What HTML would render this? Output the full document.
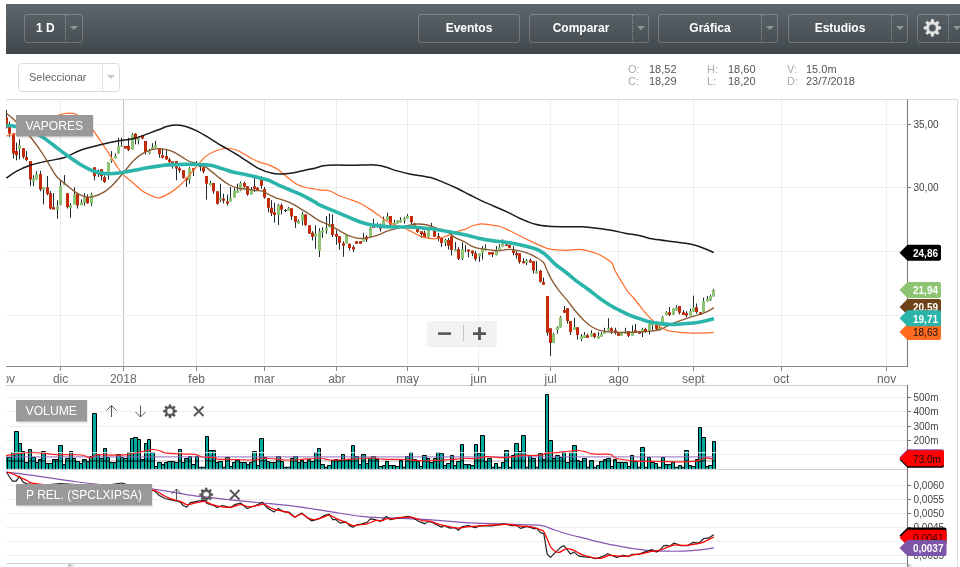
<!DOCTYPE html>
<html><head><meta charset="utf-8"><title>VAPORES</title>
<style>
html,body{margin:0;padding:0;background:#fff;}
body{width:960px;height:567px;position:relative;overflow:hidden;font-family:"Liberation Sans",sans-serif;}
#hdr{position:absolute;left:6px;top:4px;width:954px;height:50px;overflow:hidden;background:linear-gradient(#5e676d,#40474c);}
.btn{position:absolute;top:10px;height:27px;border:1px solid rgba(255,255,255,.22);border-radius:3px;box-sizing:content-box;color:#fff;font-weight:bold;font-size:12px;line-height:27px;text-align:center;}
.btn .dv{position:absolute;top:0;bottom:0;width:0;border-left:1px dotted rgba(255,255,255,.35);}
.btn .ar{position:absolute;top:10.5px;width:0;height:0;border-left:4px solid transparent;border-right:4px solid transparent;border-top:4.5px solid #8f969a;}
#sel{position:absolute;left:18px;top:63px;width:100px;height:27px;border:1px solid #dcdcdc;border-radius:4px;background:#fff;font-size:11px;color:#666;line-height:27px;}
#sel span{position:absolute;left:10px;top:0;}
#sel .dv{position:absolute;left:83px;top:0;bottom:0;border-left:1px dotted #ccc;}
#sel .ar{position:absolute;left:88px;top:11px;width:0;height:0;border-left:4px solid transparent;border-right:4px solid transparent;border-top:4.5px solid #c8c8c8;}
.inf{position:absolute;font-size:11px;line-height:12px;color:#555;white-space:nowrap;}
.inf b{font-weight:normal;color:#aaa;}
svg{position:absolute;left:0;top:0;will-change:transform;}
#hdr,#sel,.inf{will-change:transform;}
.xl{font-size:12px;fill:#666;font-family:"Liberation Sans",sans-serif;}
.yl{font-size:10px;fill:#444;font-family:"Liberation Sans",sans-serif;}
.tg{font-size:10px;font-family:"Liberation Sans",sans-serif;}
.lb{font-size:13px;fill:#fff;font-family:"Liberation Sans",sans-serif;}
</style></head><body>
<div id="hdr">
 <div class="btn" style="left:18px;width:57px;"><span style="position:absolute;left:11px;top:0;">1 D</span><span class="dv" style="left:40px"></span><span class="ar" style="left:45px"></span></div>
 <div class="btn" style="left:412px;width:100px;">Eventos</div>
 <div class="btn" style="left:523px;width:118px;"><span style="position:absolute;left:0;width:102px;top:0;">Comparar</span><span class="dv" style="left:102px"></span><span class="ar" style="left:107px"></span></div>
 <div class="btn" style="left:652px;width:118px;"><span style="position:absolute;left:0;width:102px;top:0;">Gráfica</span><span class="dv" style="left:102px"></span><span class="ar" style="left:107px"></span></div>
 <div class="btn" style="left:782px;width:118px;"><span style="position:absolute;left:0;width:102px;top:0;">Estudios</span><span class="dv" style="left:102px"></span><span class="ar" style="left:107px"></span></div>
 <div class="btn" style="left:911px;width:60px;"><span class="dv" style="left:30px"></span><span class="ar" style="left:35px"></span></div>
</div>
<div id="sel"><span>Seleccionar</span><i class="dv"></i><i class="ar"></i></div>
<div class="inf" style="left:628px;top:63px;"><b>O:</b></div><div class="inf" style="left:648.5px;top:63px;">18,52</div>
<div class="inf" style="left:628px;top:75px;"><b>C:</b></div><div class="inf" style="left:648.5px;top:75px;">18,29</div>
<div class="inf" style="left:707px;top:63px;"><b>H:</b></div><div class="inf" style="left:727.5px;top:63px;">18,60</div>
<div class="inf" style="left:707px;top:75px;"><b>L:</b></div><div class="inf" style="left:727.5px;top:75px;">18,20</div>
<div class="inf" style="left:786.5px;top:63px;"><b>V:</b></div><div class="inf" style="left:806px;top:63px;">15.0m</div>
<div class="inf" style="left:786.5px;top:75px;"><b>D:</b></div><div class="inf" style="left:806px;top:75px;">23/7/2018</div>
<svg width="960" height="567" viewBox="0 0 960 567">
<defs>
<clipPath id="cx"><rect x="6.5" y="366" width="960" height="30"/></clipPath><clipPath id="cm"><rect x="6" y="100" width="901" height="266"/></clipPath>
<clipPath id="cv"><rect x="6" y="387" width="901" height="82.5"/></clipPath>
<clipPath id="cp"><rect x="6" y="470" width="901" height="94"/></clipPath>

</defs>
<path d="M60.5 99.5V366" stroke="#eeeeee" stroke-width="1"/><path d="M196.5 99.5V366" stroke="#eeeeee" stroke-width="1"/><path d="M264.5 99.5V366" stroke="#eeeeee" stroke-width="1"/><path d="M336.5 99.5V366" stroke="#eeeeee" stroke-width="1"/><path d="M407.5 99.5V366" stroke="#eeeeee" stroke-width="1"/><path d="M478.5 99.5V366" stroke="#eeeeee" stroke-width="1"/><path d="M550.5 99.5V366" stroke="#eeeeee" stroke-width="1"/><path d="M618.5 99.5V366" stroke="#eeeeee" stroke-width="1"/><path d="M693.5 99.5V366" stroke="#eeeeee" stroke-width="1"/><path d="M781.5 99.5V366" stroke="#eeeeee" stroke-width="1"/><path d="M886.5 99.5V366" stroke="#eeeeee" stroke-width="1"/><path d="M123.5 99.5V366" stroke="#c4c4c4" stroke-width="1"/><path d="M6 124.5H907" stroke="#eeeeee" stroke-width="1"/><path d="M6 187.5H907" stroke="#eeeeee" stroke-width="1"/><path d="M6 251.5H907" stroke="#eeeeee" stroke-width="1"/><path d="M6 315.5H907" stroke="#eeeeee" stroke-width="1"/><path d="M6 99.5H958" stroke="#dcdcdc" stroke-width="1"/><path d="M957.5 99.5V567" stroke="#dcdcdc" stroke-width="1"/><path d="M6 397.5H907" stroke="#eeeeee" stroke-width="1"/><path d="M6 411.5H907" stroke="#eeeeee" stroke-width="1"/><path d="M6 426.5H907" stroke="#eeeeee" stroke-width="1"/><path d="M6 440.5H907" stroke="#eeeeee" stroke-width="1"/><path d="M6 454.5H907" stroke="#eeeeee" stroke-width="1"/><path d="M6 485.5H907" stroke="#eeeeee" stroke-width="1"/><path d="M6 499.5H907" stroke="#eeeeee" stroke-width="1"/><path d="M6 513.5H907" stroke="#eeeeee" stroke-width="1"/><path d="M6 527.5H907" stroke="#eeeeee" stroke-width="1"/><path d="M6 541.5H907" stroke="#eeeeee" stroke-width="1"/><path d="M6 555.5H907" stroke="#eeeeee" stroke-width="1"/><path d="M6 385.5H907" stroke="#cfcfcf" stroke-width="1"/><path d="M6 469.5H907" stroke="#cfcfcf" stroke-width="1"/><path d="M6 563.5H907" stroke="#d5d5d5" stroke-width="1"/>
<g clip-path="url(#cm)">
<path d="M6.5 110V128.5M9.5 121.8V136.8M13.5 133.5V158.6M16.5 142.7V160.3M19.5 139.3V159.4M23.5 148.2V158.6M26.5 151.1V161.1M30.5 161.1V186.2M33.5 175.4V186.2M36.5 171.2V179.5M40.5 170.8V191.3M43.5 187.2V204.4M47.5 176V195.2M50.5 191V209.5M53.5 193.2V209.5M57.5 200.3V218.7M60.5 181V205.3M64.5 175.1V185.2M67.5 193.2V208.6M70.5 203.3V217.8M74.5 187.2V204.4M77.5 193.9V208.6M81.5 199.4V205.3M84.5 193.2V205.6M87.5 194.4V203.6M91.5 192.7V206.1M94.5 167.3V180.4M98.5 169.5V177M101.5 169.2V180.4M104.5 175.4V182.9M108.5 162V179.5M111.5 151.1V162.8M115.5 153.6V158.6M118.5 137.7V153.6M121.5 137.7V146.9M125.5 146V148.6M128.5 137.7V151.1M132.5 133.1V149.4M135.5 133.1V144.4M138.5 138.2V144.4M142.5 135.2V139.3M145.5 141V154.4M149.5 148.9V154.4M152.5 143.2V149.9M155.5 140.9V147.6M159.5 148.5V157.7M162.5 148.5V158.5M166.5 148.8V159.4M169.5 157.7V163.6M172.5 161.5V168.6M176.5 161V180.3M179.5 166.9V172.8M183.5 170.3V178.6M186.5 177.8V187M189.5 166.9V183.7M193.5 168.2V176.1M196.5 161V165.2M200.5 163.9V171.1M203.5 167.2V173.3M206.5 176.1V199.6M210.5 180.6V185.3M213.5 183.1V193.7M217.5 191.2V204.6M220.5 183.7V202.1M223.5 193.7V203.4M227.5 194.5V205.4M230.5 187V201.6M234.5 187.8V197.4M237.5 183.7V192.9M240.5 181.6V191.2M244.5 181.6V187.8M247.5 186.2V195.7M251.5 187V194.5M254.5 177.8V192M257.5 187V190M261.5 176.1V188.7M264.5 187V198.7M268.5 198.1V212.2M271.5 200.1V216M274.5 202.6V222.7M278.5 203.8V224.9M281.5 203.5V214.4M284 210.5h3M285.5 209.3V212.2M288.5 206.8V210.5M291.5 208.2V219.9M295.5 216V227.8M298.5 219.4V223.6M302.5 211.9V225.3M305.5 214.4V226.1M309.5 225.3V234M312.5 231.2V240.4M315.5 225.3V248.8M319.5 228.3V257.1M322.5 227.3V237.9M326.5 216.1V233.7M329.5 213.6V227.3M332.5 214.4V237M336.5 230.3V244.6M339.5 236.2V249.6M343.5 241.2V256.8M346.5 234V243.4M349.5 243.7V250.4M353.5 245.4V252.1M356.5 241.2V243.7M360.5 241.2V243.7M363.5 232.8V241.5M366.5 235.4V242.1M370.5 227V237.4M373.5 218.9V227.8M377.5 222.8V227M380.5 223.6V231.7M383.5 216.6V225.6M387.5 212.7V220.3M390.5 216.1V225.3M394.5 219.9V228.7M397.5 220.3V223.6M400.5 217.3V222.8M404.5 216.9V223.6M407.5 213.9V218.6M411.5 216.1V224M414.5 222.8V226.1M417.5 226.6V232.8M421.5 231.2V237.9M424.5 230.7V237.9M428.5 229.5V239M431.5 222.8V227.8M434.5 230.7V236.7M438.5 232.8V241.2M441.5 237.4V247.1M445.5 238.7V246.2M448.5 237.9V249.6M451.5 235.4V255.5M455.5 242.1V251.3M458.5 247.1V260M462.5 242.4V260M465.5 244.9V252M468.5 249.4V257.3M472.5 250.6V256.1M475.5 251.1V261.2M479.5 253.6V261.7M482.5 246.1V259.5M485.5 244.4V250.6M489.5 252.3V254.5M492.5 252V257M496.5 246.1V255.3M499.5 244.4V249.9M502.5 239.4V246.6M506.5 244.4V246.1M509.5 244.9V247.8M513.5 246.1V255.3M516.5 251.1V258.7M519.5 253.3V263.7M523.5 258.3V263.3M526.5 259V265M530.5 258.7V262.5M533.5 261.2V273.7M536.5 261.2V273.4M540.5 270V282.6M543.5 277.5V284.7M547.5 296V335.7M550.5 328.3V355.8M553.5 332.8V342.9M557.5 326.1V333.7M560.5 316.1V327.8M564.5 306V312.7M567.5 308.2V323.6M570.5 321.1V335M574.5 317.7V330M577.5 327.3V339.5M581.5 334V341.2M584.5 332V337.8M587.5 333.7V337.8M591.5 330.3V336.7M594.5 332.8V338.3M598.5 332.3V338.7M601.5 332.3V336.7M604.5 327.8V333.7M608.5 318.2V330.6M611.5 327.3V334M615.5 327.8V334.5M618.5 332.8V335.7M621.5 333.3V335.7M625.5 327.8V333.7M628.5 331.1V337M632.5 325.3V335.7M635.5 323.9V332.8M639.5 331.6V333.7M642.5 327.8V337M645.5 327.8V332.8M649.5 322.8V334.5M652.5 323.3V330.3M656.5 321.1V330.3M659.5 325.3V330.3M662.5 316.1V322.8M666.5 311.1V315.3M669.5 306.9V316.1M673.5 308.2V314.9M676.5 305.2V310.6M679.5 306V314.4M683.5 310.2V314.9M686.5 311.1V317.3M690.5 308.6V315.6M693.5 295.7V311.6M696.5 303.5V313.6M700.5 312.2V314.9M703.5 297.7V312.2M707.5 296V301.5M710.5 294.8V301M713.5 288.8V296.5" stroke="#1c2b33" stroke-width="1" fill="none"/><path d="M5 117.6h3V127.6h-3zM8 124.3h3V133.5h-3zM12 133.5h3V153.6h-3zM15 151.1h3V155.3h-3zM22 148.2h3V156.9h-3zM25 156.9h3V159.9h-3zM29 161.1h3V179.5h-3zM39 174h3V189.6h-3zM46 187.2h3V193.9h-3zM49 193.2h3V208.6h-3zM52 207.3h3V209.5h-3zM66 193.2h3V207h-3zM76 193.9h3V205.6h-3zM86 196.9h3V203.3h-3zM93 167.3h3V176.2h-3zM97 172h3V174.5h-3zM100 169.2h3V176.2h-3zM103 177h3V182.1h-3zM124 146h3V148.6h-3zM127 146h3V149.9h-3zM134 133.8h3V139.3h-3zM141 135.2h3V138.5h-3zM144 141h3V151.9h-3zM158 148.5h3V154.3h-3zM161 155.2h3V157.7h-3zM165 156h3V159.4h-3zM168 159.4h3V161.9h-3zM171 161.5h3V163.9h-3zM175 161h3V168.6h-3zM178 168.2h3V170.6h-3zM182 170.3h3V177.8h-3zM185 177.8h3V180.3h-3zM192 168.2h3V170.6h-3zM199 163.9h3V166.9h-3zM202 167.2h3V171.6h-3zM205 176.1h3V183.7h-3zM212 183.1h3V191.2h-3zM216 191.2h3V203.8h-3zM222 198.4h3V200.7h-3zM226 201.2h3V203.4h-3zM243 183.1h3V186.7h-3zM246 186.2h3V194.5h-3zM253 186.2h3V188.7h-3zM256 187.8h3V190h-3zM260 180h3V185.7h-3zM263 189h3V197.4h-3zM267 198.1h3V207.7h-3zM270 207.7h3V213.2h-3zM273 212.2h3V214.9h-3zM280 205.2h3V209.8h-3zM290 208.2h3V216.5h-3zM294 216h3V221.9h-3zM304 214.4h3V224.9h-3zM308 225.3h3V233.6h-3zM311 232.8h3V236.7h-3zM331 224h3V235h-3zM335 234h3V236.7h-3zM338 236.2h3V242.9h-3zM342 243.2h3V245.7h-3zM348 243.7h3V247.9h-3zM352 247.1h3V249.6h-3zM355 241.2h3V243.7h-3zM359 241.2h3V243.7h-3zM365 236.7h3V239.5h-3zM372 226.6h3V227.8h-3zM379 226.1h3V228.7h-3zM389 216.1h3V224.5h-3zM410 216.1h3V222.3h-3zM413 223.6h3V225.6h-3zM416 228.7h3V232h-3zM420 231.2h3V234h-3zM423 232.8h3V237.4h-3zM433 230.7h3V236.7h-3zM437 236.2h3V238.7h-3zM440 237.4h3V242.9h-3zM447 240h3V245.7h-3zM450 236.2h3V250.1h-3zM457 249.3h3V258.8h-3zM467 249.4h3V251.6h-3zM471 250.6h3V253.6h-3zM474 253.3h3V259h-3zM488 252.3h3V254.5h-3zM491 252.3h3V254.5h-3zM505 244.4h3V246.1h-3zM508 244.9h3V247.8h-3zM512 250.3h3V252.8h-3zM515 253.3h3V255.3h-3zM518 253.3h3V262h-3zM522 261.2h3V263.3h-3zM529 260.3h3V262.5h-3zM532 261.2h3V270.4h-3zM539 270.8h3V281.7h-3zM542 282.1h3V284.7h-3zM546 296h3V332.8h-3zM549 328.3h3V342.9h-3zM563 309.9h3V312.7h-3zM566 308.2h3V321.1h-3zM569 321.1h3V332h-3zM576 327.3h3V335h-3zM586 335.3h3V337.8h-3zM593 333.3h3V337h-3zM610 328.3h3V331.1h-3zM614 330.3h3V332.8h-3zM617 332.8h3V335.7h-3zM627 331.1h3V335.7h-3zM634 330.3h3V332.8h-3zM638 331.6h3V333.7h-3zM644 329h3V332h-3zM655 324.4h3V329h-3zM668 312.2h3V314.9h-3zM678 306h3V312.7h-3zM682 312.2h3V314.9h-3zM685 313.2h3V315.6h-3zM695 307.2h3V311.9h-3zM699 312.2h3V314.9h-3z" fill="#c22a0a"/><path d="M18 145.2h3V148.9h-3zM32 178.7h3V181.7h-3zM35 174h3V179.5h-3zM42 187.2h3V189.4h-3zM56 206.4h3V209.5h-3zM59 186h3V205.3h-3zM63 182.7h3V185.2h-3zM69 205.3h3V207.8h-3zM73 194.4h3V204.4h-3zM80 202.3h3V205.3h-3zM83 197.2h3V202.8h-3zM90 193.9h3V203.6h-3zM107 162h3V172h-3zM110 158.3h3V161.1h-3zM114 156.1h3V158.6h-3zM117 146h3V153.6h-3zM120 146h3V147h-3zM131 134.3h3V149.4h-3zM137 138.2h3V140.5h-3zM148 151.1h3V153.6h-3zM151 147.2h3V149.9h-3zM154 145.1h3V147.6h-3zM188 168.2h3V179.5h-3zM209 183.1h3V185.3h-3zM219 197.9h3V200.4h-3zM229 197.9h3V201.6h-3zM233 190.4h3V197.4h-3zM236 190.4h3V192.9h-3zM239 183.1h3V190.4h-3zM250 189.5h3V194.5h-3zM277 205.2h3V214.9h-3zM287 208.2h3V210.5h-3zM297 221.1h3V223.6h-3zM301 213.9h3V220.6h-3zM314 234h3V236.7h-3zM318 231.2h3V250.8h-3zM321 230.3h3V232.8h-3zM325 228.1h3V230.7h-3zM328 224.5h3V227.3h-3zM345 235h3V243.4h-3zM362 237.4h3V241.5h-3zM369 227.8h3V237.4h-3zM382 220.3h3V225.6h-3zM386 216.6h3V220.3h-3zM393 222.8h3V227.3h-3zM396 220.3h3V223.6h-3zM399 220.3h3V222.8h-3zM403 218.3h3V220.6h-3zM406 216.1h3V218.6h-3zM427 230.3h3V237.4h-3zM444 240h3V242.4h-3zM454 249.3h3V251.3h-3zM461 249.3h3V258.5h-3zM478 253.6h3V256.6h-3zM481 248.3h3V253.3h-3zM484 248.1h3V249.1h-3zM495 249.4h3V255.3h-3zM498 247.3h3V249.9h-3zM501 243.9h3V246.6h-3zM525 260.3h3V262.8h-3zM535 271.2h3V273.4h-3zM552 334h3V342.9h-3zM556 327h3V330h-3zM559 317.2h3V327.8h-3zM573 327h3V330h-3zM580 336.2h3V339h-3zM583 335h3V337.8h-3zM590 333.3h3V336.7h-3zM597 336.2h3V338.7h-3zM600 333.7h3V336.7h-3zM603 331.6h3V333.7h-3zM607 328.3h3V330.6h-3zM620 333.3h3V335.7h-3zM624 331.6h3V333.7h-3zM631 331.6h3V335.7h-3zM641 329h3V332.3h-3zM648 323.9h3V331.1h-3zM651 323.3h3V325.6h-3zM658 327.8h3V330.3h-3zM661 316.9h3V322.8h-3zM665 312.2h3V314.9h-3zM672 308.2h3V314.9h-3zM675 307.7h3V310.6h-3zM689 311.1h3V315.6h-3zM692 307.2h3V311.6h-3zM702 301h3V312.2h-3zM706 298.8h3V301.5h-3zM709 296h3V300.2h-3zM712 290.1h3V296.5h-3z" fill="#8dc473"/>
<path d="M6.4 136C8 135.6 12.1 135 16 133.5C19.9 132 25.2 129.4 30 127C34.8 124.6 39.7 121.1 45 119C50.3 116.9 58 115.2 62 114.2C66 113.2 66.3 113 68.7 113C71.1 113 73.5 113 76.2 114.2C78.9 115.4 82.2 117.3 85 120C87.8 122.7 90.4 126.6 93 130.1C95.6 133.6 97.8 137.1 100.5 141C103.2 144.9 106.1 149.3 108.9 153.6C111.7 157.9 114.8 163.4 117.3 167C119.8 170.6 121.2 172.6 124 175.4C126.8 178.2 130.7 180.9 134 183.7C137.3 186.5 140.7 189.9 144 192.1C147.3 194.3 151.4 195.9 154.1 196.8C156.8 197.7 157.3 198.2 160 197.6C162.7 196.9 166.8 194.9 170.1 192.9C173.4 190.9 177 188.1 180.1 185.3C183.2 182.5 185.7 179.3 188.5 176.1C191.3 172.9 194.1 169.3 196.9 166.1C199.7 162.9 202.5 159.3 205.3 156.9C208.1 154.5 210.5 153.2 213.6 151.8C216.7 150.4 220.9 149.1 223.7 148.5C226.5 147.9 227.9 148.1 230.4 148.5C232.9 148.9 235.7 149.6 238.8 151C241.9 152.4 245.5 155.1 248.8 156.9C252.2 158.7 255.5 160.6 258.9 161.9C262.2 163.2 265.5 163.5 268.9 164.9C272.2 166.3 275.6 168 279 170.3C282.4 172.6 285.9 176.2 289 178.6C292.1 181 294.6 183 297.4 184.5C300.2 186 302.9 186.8 305.8 187.5C308.7 188.2 312.6 188.6 315 189C317.4 189.4 317.5 189.8 320 190.1C322.5 190.4 326.7 190 330.1 191C333.5 192 336.6 194.5 340.2 196C343.8 197.5 348.5 198.9 351.9 200.2C355.2 201.4 357.2 202 360.3 203.5C363.4 205 367.2 207.4 370.3 209.4C373.4 211.4 376.2 213.5 378.7 215.3C381.2 217.1 382.9 218.8 385.4 220.3C387.9 221.8 390.7 223.2 393.8 224.5C396.9 225.8 400.7 226.6 403.8 227.8C406.9 229.1 409.4 230.6 412.2 232C415 233.4 418.1 235.2 420.6 236.2C423.1 237.2 424.8 237.8 427.3 238.2C429.8 238.6 432.8 238.9 435.6 238.7C438.4 238.5 441.2 237.8 444 237C446.8 236.2 449.6 234.8 452.4 233.7C455.2 232.6 458.7 231 460.8 230.3C462.9 229.6 462.9 230.1 465 229.3C467.1 228.5 470.6 226.4 473.4 225.5C476.2 224.6 479 223.9 481.8 223.8C484.6 223.7 487 224.4 490.1 224.8C493.2 225.2 496.9 225.5 500.2 226.5C503.5 227.5 506.9 229.4 510.2 231C513.5 232.6 516.9 234.3 520.3 236C523.6 237.7 527.2 239.6 530.3 241.1C533.4 242.6 535.9 243.7 538.7 244.9C541.5 246.1 544 247.5 547.1 248.3C550.2 249.1 553.8 249.6 557.1 249.9C560.5 250.2 563.6 250.4 567.2 250.3C570.8 250.2 575.3 249.3 578.9 249.4C582.5 249.5 585.6 250.2 589 251.1C592.4 251.9 595.9 253.1 599 254.5C602.1 255.9 605.2 258 607.4 259.5C609.6 261 611.2 261.9 612.4 263.7C613.6 265.4 613.3 267.3 614.7 270C616.1 272.7 618.5 276.6 620.6 280.1C622.7 283.6 625.1 287.8 627.3 290.9C629.5 294 631.8 295.8 634 298.5C636.2 301.2 638.5 304.1 640.7 306.9C642.9 309.7 645.2 312.7 647.4 315.2C649.6 317.7 652.2 320.1 654.1 321.9C656 323.7 656.5 324.7 658.6 326.1C660.8 327.5 664.2 329.4 667 330.3C669.8 331.2 672 331.3 675.4 331.7C678.8 332.1 682.9 332.6 687.1 332.8C691.3 333.1 696 333.2 700.5 333.2C705 333.1 711.7 332.6 713.9 332.5" fill="none" stroke="#ff6f2c" stroke-width="1.25" stroke-linejoin="round" stroke-linecap="butt" /><path d="M6.4 178.2C8.1 177 12.8 173.3 16.8 171.2C20.8 169 25.2 167 30.2 165.3C35.2 163.6 41.3 162.3 46.9 161.1C52.5 159.8 58.1 159.6 63.7 157.8C69.3 156 75.1 152.2 80.4 150.2C85.7 148.2 89.3 147.5 95.5 146C101.7 144.5 110.9 142.2 117.3 141C123.7 139.8 128.4 139.9 134 138.5C139.6 137.1 146.5 134.1 150.8 132.6C155.1 131.1 157.3 130.3 160 129.3C162.7 128.3 163.9 127.1 166.7 126.4C169.5 125.7 173.5 125 176.8 125C180.2 125 183.5 125.7 186.8 126.7C190.2 127.7 193.3 129.1 196.9 130.9C200.5 132.7 204.4 135.1 208.6 137.6C212.8 140.1 217.8 143.5 222 146C226.2 148.5 229.8 150.3 233.7 152.7C237.6 155.1 241.3 157.5 245.5 160.2C249.7 162.8 254.4 166.4 258.9 168.6C263.4 170.8 268.4 172.4 272.3 173.3C276.2 174.2 278.7 174 282.3 173.9C285.9 173.8 290.1 173.5 294 172.8C297.9 172.1 302.3 170.7 305.8 169.9C309.3 169.1 312.1 168.9 315 168.2C317.9 167.5 319.8 166.3 323.4 165.8C327 165.3 332.1 165.1 336.8 165C341.6 164.9 347.2 165.3 351.9 165.3C356.6 165.3 361.3 165.1 365 165C368.7 164.9 371.3 164.8 374 164.9C376.7 165 378.7 165.2 381 165.7C383.3 166.2 385.3 166.9 388 167.8C390.7 168.7 393.4 169.8 397.1 170.9C400.9 172 404.9 173.1 410.5 174.2C416.1 175.3 425 176.2 430.6 177.6C436.2 179 439.5 180.8 444 182.6C448.5 184.4 453.1 186.4 457.4 188.5C461.7 190.6 465.9 192.9 470 195C474.1 197.1 477.6 199 481.8 200.9C486 202.8 490.7 204.8 495.2 206.7C499.7 208.6 504.1 210.5 508.6 212.6C513.1 214.7 517.5 217.4 522 219.3C526.5 221.2 530.9 223.1 535.4 224.3C539.9 225.5 543.8 225.9 548.8 226.3C553.8 226.7 559.9 226.7 565.5 226.8C571.1 226.9 576.7 226.5 582.3 226.8C587.9 227.1 594 227.9 599 228.5C604 229.1 608.1 229.7 612.4 230.5C616.7 231.3 620.4 232.3 625 233.2C629.6 234.1 635.3 234.8 640 235.8C644.7 236.8 647.8 238.1 653.4 239.1C659 240.1 667.4 241 673.5 241.8C679.6 242.6 685.3 243 690.3 244.1C695.3 245.2 699.8 246.8 703.7 248.2C707.6 249.6 712 251.8 713.7 252.5" fill="none" stroke="#1a1a1a" stroke-width="1.5" stroke-linejoin="round" stroke-linecap="butt" /><path d="M6.4 113.4C7.3 114.1 10 116.1 11.7 117.6C13.4 119.1 13.7 119.4 16.8 122.6C19.9 125.8 26.3 132.2 30.2 136.8C34.1 141.4 37.1 145.7 40.2 150.2C43.3 154.7 45.8 159.1 48.6 163.6C51.4 168.1 53.9 173.4 57 177C60.1 180.6 63.9 182.9 67 185.4C70.1 187.9 72.6 190.3 75.4 192.1C78.2 193.9 81 195.5 83.8 196.3C86.6 197.1 88.8 197.5 92.1 196.8C95.4 196.1 100.3 194.3 103.9 192.1C107.5 189.9 110.6 187 113.9 183.7C117.2 180.3 120.7 175.9 124 172C127.3 168.1 130.9 163.4 134 160.3C137.1 157.2 139.6 155.3 142.4 153.6C145.2 151.9 148.3 150.7 150.8 149.9C153.3 149.1 155.1 148.7 157.5 148.6C159.9 148.5 162.3 148.8 165 149.3C167.7 149.8 170.6 150.5 173.4 151.8C176.2 153.1 179.3 155.4 181.8 156.9C184.3 158.4 186 159.9 188.5 161C191 162.1 194.1 162.6 196.9 163.6C199.7 164.6 202.8 165.5 205.3 166.9C207.8 168.3 209.5 170 212 171.9C214.5 173.8 217.5 176.5 220.3 178.6C223.1 180.7 225.9 183 228.7 184.5C231.5 186 234.3 187.1 237.1 187.8C239.9 188.6 242.4 188.6 245.5 189C248.6 189.4 252.7 190 255.5 190.4C258.3 190.8 260 190.5 262.2 191.2C264.4 191.9 266.7 193.4 268.9 194.5C271.1 195.6 273.1 196.9 275.6 197.9C278.1 198.9 281.2 199.4 284 200.4C286.8 201.4 289.6 202.4 292.4 203.8C295.2 205.2 297.9 207.1 300.7 208.8C303.5 210.5 305.9 211.9 309.1 214C312.3 216.1 316.5 219.2 320 221.1C323.5 223 326.7 223.6 330.1 225.3C333.5 227 336.9 229.4 340.2 231.2C343.5 233 347.1 235 350.2 236.2C353.3 237.4 355.8 238.1 358.6 238.4C361.4 238.7 363.9 238.4 367 237.9C370.1 237.4 373.6 236.5 377 235.4C380.4 234.3 383.8 232.4 387.1 231.2C390.5 230 393.8 229.2 397.1 228.3C400.5 227.4 403.9 226.3 407.2 225.6C410.5 224.9 413.8 224.1 417.2 224C420.6 223.9 423.9 224.3 427.3 225C430.7 225.7 434 227.1 437.3 228.3C440.6 229.5 444.3 230.4 447.4 232C450.5 233.6 452.9 236.3 455.7 237.9C458.5 239.5 461.2 240.2 464.1 241.7C467.1 243.2 470.4 245.7 473.4 246.9C476.3 248.1 479 248.4 481.8 248.9C484.6 249.4 487.3 249.6 490.1 249.9C492.9 250.2 495.4 250.9 498.5 250.8C501.6 250.7 505.2 249.4 508.6 249.4C512 249.4 515.2 249.9 518.6 250.6C522 251.3 525.6 252.4 528.7 253.6C531.8 254.8 534.5 256.3 537 257.8C539.5 259.3 542.1 260.8 543.7 262.8C545.4 264.8 545.5 267.1 546.9 270C548.3 272.9 549.9 276.8 551.9 280.1C553.9 283.5 556.1 286.8 558.6 290.1C561.1 293.5 564.2 296.7 567 300.2C569.8 303.7 572.6 307.6 575.4 311C578.2 314.4 581 317.6 583.8 320.3C586.6 323 589.3 325.3 592.1 327C594.9 328.7 597.5 329.8 600.5 330.6C603.5 331.4 606.8 331.7 610.1 332C613.4 332.3 616.8 332.4 620.1 332.5C623.5 332.6 626.9 332.4 630.2 332.3C633.6 332.2 636.9 332.2 640.2 332C643.6 331.8 646.9 331.6 650.3 331.2C653.6 330.8 657.5 330.4 660.3 329.5C663.1 328.6 664.5 327.3 667 326.1C669.5 324.9 672.6 323.5 675.4 322.4C678.2 321.3 681 320.4 683.8 319.4C686.6 318.4 689.3 317.5 692.1 316.6C694.9 315.7 698 315 700.5 314.2C703 313.4 705 312.7 707.2 311.6C709.4 310.5 712.8 308.3 713.9 307.6" fill="none" stroke="#8a5a32" stroke-width="1.35" stroke-linejoin="round" stroke-linecap="butt" /><path d="M6.4 125.4C8.1 125.6 12.9 125.9 16.8 126.8C20.7 127.7 25.8 129.3 30 131C34.2 132.7 38 134.4 41.9 136.8C45.8 139.2 49.4 142.1 53.6 145.2C57.8 148.3 62.5 152.1 67 155.3C71.5 158.5 75.9 161.8 80.4 164.5C84.9 167.2 89.3 169.7 93.8 171.2C98.3 172.7 102.7 173.4 107.2 173.7C111.7 174 116.1 173.4 120.6 172.8C125.1 172.2 129.5 171.1 134 170.3C138.5 169.5 143.1 168.5 147.4 167.8C151.7 167.1 156.5 166.4 160 165.9C163.5 165.4 164.8 165.2 168.4 164.9C172 164.7 177.1 164.5 181.8 164.4C186.6 164.3 192.2 164.3 196.9 164.4C201.7 164.5 206.1 164.5 210.3 165.2C214.5 165.9 218.1 167.4 222 168.6C225.9 169.8 229.8 171.3 233.7 172.3C237.6 173.3 241.3 173.5 245.5 174.4C249.7 175.3 255 176.8 258.9 177.8C262.8 178.8 265.5 179.1 268.9 180.3C272.2 181.6 275.6 183.8 279 185.3C282.4 186.8 285.7 188.1 289 189.5C292.3 190.9 295.9 192.3 299 193.7C302.1 195.1 304.7 196.5 307.4 197.9C310.1 199.3 312.9 200.9 315 202.1C317.1 203.3 317.5 204 320 205.2C322.5 206.4 326.7 208 330.1 209.4C333.5 210.8 336.9 212.2 340.2 213.6C343.5 215 346.8 216.4 350.2 217.8C353.6 219.2 356.9 220.8 360.3 222C363.7 223.2 367 224.1 370.3 224.8C373.6 225.5 376.5 225.7 380.4 226.1C384.3 226.5 389.3 226.8 393.8 227C398.3 227.2 402.7 226.9 407.2 227C411.7 227.1 416.1 227.4 420.6 227.8C425.1 228.2 429.5 228.6 434 229.2C438.5 229.8 442.9 230.7 447.4 231.5C451.9 232.3 457 233.3 460.8 234C464.6 234.7 467.1 235.2 470 235.9C472.9 236.6 474.8 237.4 478.4 238.2C482 239 487.3 239.9 491.8 240.6C496.3 241.3 500.7 241.6 505.2 242.2C509.7 242.8 514.1 243.5 518.6 244.4C523.1 245.3 528.4 246.7 532 247.8C535.6 248.9 537.9 249.7 540.4 251.1C542.9 252.5 544.6 253.9 547.1 256.1C549.6 258.3 552.4 261.9 555.5 264.5C558.6 267.1 562.1 269.4 565.5 272C568.9 274.6 572 277.6 575.6 280.4C579.2 283.2 583.2 285.8 587.3 288.8C591.4 291.8 596.2 295.8 600 298.5C603.8 301.2 606.8 303.2 610.1 305.2C613.5 307.2 616.8 308.9 620.1 310.6C623.5 312.3 626.9 313.9 630.2 315.3C633.6 316.7 636.9 317.8 640.2 318.9C643.6 320 646.9 321.2 650.3 322C653.6 322.8 656.9 323.2 660.3 323.6C663.6 324 667 324.4 670.4 324.5C673.8 324.6 677 324.2 680.4 324C683.8 323.8 687.1 323.6 690.5 323.3C693.9 323 697.7 322.4 700.5 322C703.3 321.6 705 321.2 707.2 320.6C709.4 320 712.8 318.9 713.9 318.6" fill="none" stroke="#2bb5aa" stroke-width="3.6" stroke-linejoin="round" stroke-linecap="butt" />
</g>
<g clip-path="url(#cv)">
<clipPath id="cb"><path d="M4.5 468.8V457.5H7.5V468.8M7.5 468.8V457.5H11.5V468.8M11.5 468.8V452.5H14.5V468.8M14.5 468.8V431.5H18.5V468.8M18.5 468.8V443.5H21.5V468.8M21.5 468.8V451.5H24.5V468.8M24.5 468.8V462.5H28.5V468.8M28.5 468.8V449.5H31.5V468.8M31.5 468.8V457.5H35.5V468.8M35.5 468.8V462.5H38.5V468.8M38.5 468.8V459.5H41.5V468.8M41.5 468.8V451.5H45.5V468.8M45.5 468.8V463.5H48.5V468.8M48.5 468.8V463.5H52.5V468.8M52.5 468.8V459.5H55.5V468.8M55.5 468.8V459.5H58.5V468.8M58.5 468.8V445.5H62.5V468.8M62.5 468.8V464.5H65.5V468.8M65.5 468.8V458.5H69.5V468.8M69.5 468.8V451.5H72.5V468.8M72.5 468.8V458.5H75.5V468.8M75.5 468.8V461.5H79.5V468.8M79.5 468.8V463.5H82.5V468.8M82.5 468.8V459.5H86.5V468.8M86.5 468.8V461.5H89.5V468.8M89.5 468.8V456.5H92.5V468.8M92.5 468.8V413.5H96.5V468.8M96.5 468.8V454.5H99.5V468.8M99.5 468.8V458.5H103.5V468.8M103.5 468.8V448.5H106.5V468.8M106.5 468.8V457.5H109.5V468.8M109.5 468.8V462.5H113.5V468.8M113.5 468.8V462.5H116.5V468.8M116.5 468.8V454.5H120.5V468.8M120.5 468.8V457.5H123.5V468.8M123.5 468.8V458.5H127.5V468.8M127.5 468.8V452.5H130.5V468.8M130.5 468.8V438.5H133.5V468.8M133.5 468.8V437.5H137.5V468.8M137.5 468.8V439.5H140.5V468.8M140.5 468.8V459.5H144.5V468.8M144.5 468.8V443.5H147.5V468.8M147.5 468.8V439.5H150.5V468.8M150.5 468.8V452.5H154.5V468.8M154.5 468.8V466.5H157.5V468.8M157.5 468.8V462.5H161.5V468.8M161.5 468.8V464.5H164.5V468.8M164.5 468.8V462.5H167.5V468.8M167.5 468.8V461.5H171.5V468.8M171.5 468.8V461.5H174.5V468.8M174.5 468.8V462.5H178.5V468.8M178.5 468.8V449.5H181.5V468.8M181.5 468.8V462.5H184.5V468.8M184.5 468.8V458.5H188.5V468.8M188.5 468.8V456.5H191.5V468.8M191.5 468.8V464.5H195.5V468.8M195.5 468.8V456.5H198.5V468.8M198.5 468.8V467.3H201.5V468.8M201.5 468.8V467.3H205.5V468.8M205.5 468.8V436.5H208.5V468.8M208.5 468.8V450.5H212.5V468.8M212.5 468.8V450.5H215.5V468.8M215.5 468.8V462.5H218.5V468.8M218.5 468.8V461.5H222.5V468.8M222.5 468.8V467.3H225.5V468.8M225.5 468.8V457.5H229.5V468.8M229.5 468.8V466.5H232.5V468.8M232.5 468.8V462.5H235.5V468.8M235.5 468.8V459.5H239.5V468.8M239.5 468.8V462.5H242.5V468.8M242.5 468.8V462.5H246.5V468.8M246.5 468.8V464.5H249.5V468.8M249.5 468.8V462.5H252.5V468.8M252.5 468.8V451.5H256.5V468.8M256.5 468.8V465.5H259.5V468.8M259.5 468.8V438.5H263.5V468.8M263.5 468.8V457.5H266.5V468.8M266.5 468.8V461.5H269.5V468.8M269.5 468.8V462.5H273.5V468.8M273.5 468.8V462.5H276.5V468.8M276.5 468.8V456.5H280.5V468.8M280.5 468.8V461.5H283.5V468.8M283.5 468.8V467.3H286.5V468.8M286.5 468.8V467.3H290.5V468.8M290.5 468.8V458.5H293.5V468.8M293.5 468.8V456.5H297.5V468.8M297.5 468.8V462.5H300.5V468.8M300.5 468.8V460.5H303.5V468.8M303.5 468.8V462.5H307.5V468.8M307.5 468.8V459.5H310.5V468.8M310.5 468.8V461.5H314.5V468.8M314.5 468.8V452.5H317.5V468.8M317.5 468.8V448.5H320.5V468.8M320.5 468.8V464.5H324.5V468.8M324.5 468.8V467.3H327.5V468.8M327.5 468.8V465.5H331.5V468.8M331.5 468.8V460.5H334.5V468.8M334.5 468.8V459.5H337.5V468.8M337.5 468.8V460.5H341.5V468.8M341.5 468.8V454.5H344.5V468.8M344.5 468.8V459.5H348.5V468.8M348.5 468.8V459.5H351.5V468.8M351.5 468.8V445.5H354.5V468.8M354.5 468.8V456.5H358.5V468.8M358.5 468.8V464.5H361.5V468.8M361.5 468.8V454.5H365.5V468.8M365.5 468.8V463.5H368.5V468.8M368.5 468.8V458.5H371.5V468.8M371.5 468.8V456.5H375.5V468.8M375.5 468.8V459.5H378.5V468.8M378.5 468.8V466.5H382.5V468.8M382.5 468.8V465.5H385.5V468.8M385.5 468.8V461.5H388.5V468.8M388.5 468.8V465.5H392.5V468.8M392.5 468.8V465.5H395.5V468.8M395.5 468.8V466.5H399.5V468.8M399.5 468.8V460.5H402.5V468.8M402.5 468.8V467.3H405.5V468.8M405.5 468.8V456.5H409.5V468.8M409.5 468.8V452.5H412.5V468.8M412.5 468.8V459.5H416.5V468.8M416.5 468.8V461.5H419.5V468.8M419.5 468.8V466.5H422.5V468.8M422.5 468.8V455.5H426.5V468.8M426.5 468.8V458.5H429.5V468.8M429.5 468.8V462.5H433.5V468.8M433.5 468.8V458.5H436.5V468.8M436.5 468.8V452.5H439.5V468.8M439.5 468.8V453.5H443.5V468.8M443.5 468.8V465.5H446.5V468.8M446.5 468.8V463.5H450.5V468.8M450.5 468.8V455.5H453.5V468.8M453.5 468.8V465.5H456.5V468.8M456.5 468.8V461.5H460.5V468.8M460.5 468.8V444.5H463.5V468.8M463.5 468.8V464.5H467.5V468.8M467.5 468.8V464.5H470.5V468.8M470.5 468.8V465.5H474.5V468.8M474.5 468.8V444.5H477.5V468.8M477.5 468.8V453.5H480.5V468.8M480.5 468.8V435.5H484.5V468.8M484.5 468.8V461.5H487.5V468.8M487.5 468.8V458.5H491.5V468.8M491.5 468.8V467.3H494.5V468.8M494.5 468.8V463.5H497.5V468.8M497.5 468.8V467.3H501.5V468.8M501.5 468.8V462.5H504.5V468.8M504.5 468.8V450.5H508.5V468.8M508.5 468.8V467.3H511.5V468.8M511.5 468.8V455.5H514.5V468.8M514.5 468.8V443.5H518.5V468.8M518.5 468.8V451.5H521.5V468.8M521.5 468.8V435.5H525.5V468.8M525.5 468.8V467.3H528.5V468.8M528.5 468.8V455.5H531.5V468.8M531.5 468.8V458.5H535.5V468.8M535.5 468.8V467.3H538.5V468.8M538.5 468.8V453.5H542.5V468.8M542.5 468.8V459.5H545.5V468.8M545.5 468.8V394.5H548.5V468.8M548.5 468.8V440.5H552.5V468.8M552.5 468.8V458.5H555.5V468.8M555.5 468.8V455.5H559.5V468.8M559.5 468.8V457.5H562.5V468.8M562.5 468.8V452.5H565.5V468.8M565.5 468.8V462.5H569.5V468.8M569.5 468.8V452.5H572.5V468.8M572.5 468.8V445.5H576.5V468.8M576.5 468.8V460.5H579.5V468.8M579.5 468.8V461.5H582.5V468.8M582.5 468.8V458.5H586.5V468.8M586.5 468.8V467.3H589.5V468.8M589.5 468.8V460.5H593.5V468.8M593.5 468.8V467.3H596.5V468.8M596.5 468.8V465.5H599.5V468.8M599.5 468.8V461.5H603.5V468.8M603.5 468.8V459.5H606.5V468.8M606.5 468.8V458.5H610.5V468.8M610.5 468.8V466.5H613.5V468.8M613.5 468.8V459.5H616.5V468.8M616.5 468.8V462.5H620.5V468.8M620.5 468.8V462.5H623.5V468.8M623.5 468.8V462.5H627.5V468.8M627.5 468.8V466.5H630.5V468.8M630.5 468.8V455.5H633.5V468.8M633.5 468.8V461.5H637.5V468.8M637.5 468.8V467.3H640.5V468.8M640.5 468.8V447.5H644.5V468.8M644.5 468.8V467.3H647.5V468.8M647.5 468.8V457.5H650.5V468.8M650.5 468.8V462.5H654.5V468.8M654.5 468.8V463.5H657.5V468.8M657.5 468.8V467.3H661.5V468.8M661.5 468.8V457.5H664.5V468.8M664.5 468.8V464.5H667.5V468.8M667.5 468.8V464.5H671.5V468.8M671.5 468.8V462.5H674.5V468.8M674.5 468.8V467.3H678.5V468.8M678.5 468.8V465.5H681.5V468.8M681.5 468.8V467.3H684.5V468.8M684.5 468.8V450.5H688.5V468.8M688.5 468.8V465.5H691.5V468.8M691.5 468.8V466.5H695.5V468.8M695.5 468.8V459.5H698.5V468.8M698.5 468.8V427.5H701.5V468.8M701.5 468.8V437.5H705.5V468.8M705.5 468.8V466.5H708.5V468.8M708.5 468.8V465.5H712.5V468.8M712.5 468.8V441.5H715.5V468.8"/></clipPath><path d="M4.5 468.8V457.5H7.5V468.8M7.5 468.8V457.5H11.5V468.8M11.5 468.8V452.5H14.5V468.8M14.5 468.8V431.5H18.5V468.8M18.5 468.8V443.5H21.5V468.8M21.5 468.8V451.5H24.5V468.8M24.5 468.8V462.5H28.5V468.8M28.5 468.8V449.5H31.5V468.8M31.5 468.8V457.5H35.5V468.8M35.5 468.8V462.5H38.5V468.8M38.5 468.8V459.5H41.5V468.8M41.5 468.8V451.5H45.5V468.8M45.5 468.8V463.5H48.5V468.8M48.5 468.8V463.5H52.5V468.8M52.5 468.8V459.5H55.5V468.8M55.5 468.8V459.5H58.5V468.8M58.5 468.8V445.5H62.5V468.8M62.5 468.8V464.5H65.5V468.8M65.5 468.8V458.5H69.5V468.8M69.5 468.8V451.5H72.5V468.8M72.5 468.8V458.5H75.5V468.8M75.5 468.8V461.5H79.5V468.8M79.5 468.8V463.5H82.5V468.8M82.5 468.8V459.5H86.5V468.8M86.5 468.8V461.5H89.5V468.8M89.5 468.8V456.5H92.5V468.8M92.5 468.8V413.5H96.5V468.8M96.5 468.8V454.5H99.5V468.8M99.5 468.8V458.5H103.5V468.8M103.5 468.8V448.5H106.5V468.8M106.5 468.8V457.5H109.5V468.8M109.5 468.8V462.5H113.5V468.8M113.5 468.8V462.5H116.5V468.8M116.5 468.8V454.5H120.5V468.8M120.5 468.8V457.5H123.5V468.8M123.5 468.8V458.5H127.5V468.8M127.5 468.8V452.5H130.5V468.8M130.5 468.8V438.5H133.5V468.8M133.5 468.8V437.5H137.5V468.8M137.5 468.8V439.5H140.5V468.8M140.5 468.8V459.5H144.5V468.8M144.5 468.8V443.5H147.5V468.8M147.5 468.8V439.5H150.5V468.8M150.5 468.8V452.5H154.5V468.8M154.5 468.8V466.5H157.5V468.8M157.5 468.8V462.5H161.5V468.8M161.5 468.8V464.5H164.5V468.8M164.5 468.8V462.5H167.5V468.8M167.5 468.8V461.5H171.5V468.8M171.5 468.8V461.5H174.5V468.8M174.5 468.8V462.5H178.5V468.8M178.5 468.8V449.5H181.5V468.8M181.5 468.8V462.5H184.5V468.8M184.5 468.8V458.5H188.5V468.8M188.5 468.8V456.5H191.5V468.8M191.5 468.8V464.5H195.5V468.8M195.5 468.8V456.5H198.5V468.8M198.5 468.8V467.3H201.5V468.8M201.5 468.8V467.3H205.5V468.8M205.5 468.8V436.5H208.5V468.8M208.5 468.8V450.5H212.5V468.8M212.5 468.8V450.5H215.5V468.8M215.5 468.8V462.5H218.5V468.8M218.5 468.8V461.5H222.5V468.8M222.5 468.8V467.3H225.5V468.8M225.5 468.8V457.5H229.5V468.8M229.5 468.8V466.5H232.5V468.8M232.5 468.8V462.5H235.5V468.8M235.5 468.8V459.5H239.5V468.8M239.5 468.8V462.5H242.5V468.8M242.5 468.8V462.5H246.5V468.8M246.5 468.8V464.5H249.5V468.8M249.5 468.8V462.5H252.5V468.8M252.5 468.8V451.5H256.5V468.8M256.5 468.8V465.5H259.5V468.8M259.5 468.8V438.5H263.5V468.8M263.5 468.8V457.5H266.5V468.8M266.5 468.8V461.5H269.5V468.8M269.5 468.8V462.5H273.5V468.8M273.5 468.8V462.5H276.5V468.8M276.5 468.8V456.5H280.5V468.8M280.5 468.8V461.5H283.5V468.8M283.5 468.8V467.3H286.5V468.8M286.5 468.8V467.3H290.5V468.8M290.5 468.8V458.5H293.5V468.8M293.5 468.8V456.5H297.5V468.8M297.5 468.8V462.5H300.5V468.8M300.5 468.8V460.5H303.5V468.8M303.5 468.8V462.5H307.5V468.8M307.5 468.8V459.5H310.5V468.8M310.5 468.8V461.5H314.5V468.8M314.5 468.8V452.5H317.5V468.8M317.5 468.8V448.5H320.5V468.8M320.5 468.8V464.5H324.5V468.8M324.5 468.8V467.3H327.5V468.8M327.5 468.8V465.5H331.5V468.8M331.5 468.8V460.5H334.5V468.8M334.5 468.8V459.5H337.5V468.8M337.5 468.8V460.5H341.5V468.8M341.5 468.8V454.5H344.5V468.8M344.5 468.8V459.5H348.5V468.8M348.5 468.8V459.5H351.5V468.8M351.5 468.8V445.5H354.5V468.8M354.5 468.8V456.5H358.5V468.8M358.5 468.8V464.5H361.5V468.8M361.5 468.8V454.5H365.5V468.8M365.5 468.8V463.5H368.5V468.8M368.5 468.8V458.5H371.5V468.8M371.5 468.8V456.5H375.5V468.8M375.5 468.8V459.5H378.5V468.8M378.5 468.8V466.5H382.5V468.8M382.5 468.8V465.5H385.5V468.8M385.5 468.8V461.5H388.5V468.8M388.5 468.8V465.5H392.5V468.8M392.5 468.8V465.5H395.5V468.8M395.5 468.8V466.5H399.5V468.8M399.5 468.8V460.5H402.5V468.8M402.5 468.8V467.3H405.5V468.8M405.5 468.8V456.5H409.5V468.8M409.5 468.8V452.5H412.5V468.8M412.5 468.8V459.5H416.5V468.8M416.5 468.8V461.5H419.5V468.8M419.5 468.8V466.5H422.5V468.8M422.5 468.8V455.5H426.5V468.8M426.5 468.8V458.5H429.5V468.8M429.5 468.8V462.5H433.5V468.8M433.5 468.8V458.5H436.5V468.8M436.5 468.8V452.5H439.5V468.8M439.5 468.8V453.5H443.5V468.8M443.5 468.8V465.5H446.5V468.8M446.5 468.8V463.5H450.5V468.8M450.5 468.8V455.5H453.5V468.8M453.5 468.8V465.5H456.5V468.8M456.5 468.8V461.5H460.5V468.8M460.5 468.8V444.5H463.5V468.8M463.5 468.8V464.5H467.5V468.8M467.5 468.8V464.5H470.5V468.8M470.5 468.8V465.5H474.5V468.8M474.5 468.8V444.5H477.5V468.8M477.5 468.8V453.5H480.5V468.8M480.5 468.8V435.5H484.5V468.8M484.5 468.8V461.5H487.5V468.8M487.5 468.8V458.5H491.5V468.8M491.5 468.8V467.3H494.5V468.8M494.5 468.8V463.5H497.5V468.8M497.5 468.8V467.3H501.5V468.8M501.5 468.8V462.5H504.5V468.8M504.5 468.8V450.5H508.5V468.8M508.5 468.8V467.3H511.5V468.8M511.5 468.8V455.5H514.5V468.8M514.5 468.8V443.5H518.5V468.8M518.5 468.8V451.5H521.5V468.8M521.5 468.8V435.5H525.5V468.8M525.5 468.8V467.3H528.5V468.8M528.5 468.8V455.5H531.5V468.8M531.5 468.8V458.5H535.5V468.8M535.5 468.8V467.3H538.5V468.8M538.5 468.8V453.5H542.5V468.8M542.5 468.8V459.5H545.5V468.8M545.5 468.8V394.5H548.5V468.8M548.5 468.8V440.5H552.5V468.8M552.5 468.8V458.5H555.5V468.8M555.5 468.8V455.5H559.5V468.8M559.5 468.8V457.5H562.5V468.8M562.5 468.8V452.5H565.5V468.8M565.5 468.8V462.5H569.5V468.8M569.5 468.8V452.5H572.5V468.8M572.5 468.8V445.5H576.5V468.8M576.5 468.8V460.5H579.5V468.8M579.5 468.8V461.5H582.5V468.8M582.5 468.8V458.5H586.5V468.8M586.5 468.8V467.3H589.5V468.8M589.5 468.8V460.5H593.5V468.8M593.5 468.8V467.3H596.5V468.8M596.5 468.8V465.5H599.5V468.8M599.5 468.8V461.5H603.5V468.8M603.5 468.8V459.5H606.5V468.8M606.5 468.8V458.5H610.5V468.8M610.5 468.8V466.5H613.5V468.8M613.5 468.8V459.5H616.5V468.8M616.5 468.8V462.5H620.5V468.8M620.5 468.8V462.5H623.5V468.8M623.5 468.8V462.5H627.5V468.8M627.5 468.8V466.5H630.5V468.8M630.5 468.8V455.5H633.5V468.8M633.5 468.8V461.5H637.5V468.8M637.5 468.8V467.3H640.5V468.8M640.5 468.8V447.5H644.5V468.8M644.5 468.8V467.3H647.5V468.8M647.5 468.8V457.5H650.5V468.8M650.5 468.8V462.5H654.5V468.8M654.5 468.8V463.5H657.5V468.8M657.5 468.8V467.3H661.5V468.8M661.5 468.8V457.5H664.5V468.8M664.5 468.8V464.5H667.5V468.8M667.5 468.8V464.5H671.5V468.8M671.5 468.8V462.5H674.5V468.8M674.5 468.8V467.3H678.5V468.8M678.5 468.8V465.5H681.5V468.8M681.5 468.8V467.3H684.5V468.8M684.5 468.8V450.5H688.5V468.8M688.5 468.8V465.5H691.5V468.8M691.5 468.8V466.5H695.5V468.8M695.5 468.8V459.5H698.5V468.8M698.5 468.8V427.5H701.5V468.8M701.5 468.8V437.5H705.5V468.8M705.5 468.8V466.5H708.5V468.8M708.5 468.8V465.5H712.5V468.8M712.5 468.8V441.5H715.5V468.8" fill="#00aaa0" stroke="#000" stroke-width="1" stroke-linejoin="miter"/>
<path d="M6 452.7H716" stroke="#fff" stroke-opacity=".7" stroke-width="1.2"/>
<path d="M6 461H714" stroke="#000" stroke-opacity=".3" stroke-width="1.2"/><path d="M6 461H716" stroke="#000" stroke-opacity=".7" stroke-width="1.2" clip-path="url(#cb)"/>
<path d="M6 456.8H713.5" stroke="#8f6fc0" stroke-opacity=".8" stroke-width="1.3" fill="none"/><path d="M6 455.5C10 455 22.3 452.7 30 452.5C37.8 452.3 45 453.9 52.5 454.3C60 454.6 69.8 454.5 75 454.7C80.2 454.9 81.5 454.9 84 455.5C86.5 456 87.7 458.1 90 458C92.2 457.9 93.7 455.2 97.5 454.7C101.2 454.2 107.5 455.2 112.5 455.2C117.5 455.2 123.2 455.2 127.5 454.7C131.7 454.3 134.7 453.2 138 452.5C141.2 451.8 144.5 451 147 450.5C149.5 450 151 449.5 153 449.5C155 449.5 157 450 159 450.5C161 451.1 161.5 452.2 165 452.8C168.5 453.3 175 453.7 179.9 454C184.9 454.2 191.2 453.8 194.9 454.3C198.7 454.8 199.1 456.4 202.4 457C205.8 457.5 212.5 457.3 215 457.7C217.5 458.1 214.6 458.9 217.5 459.2C220.4 459.5 226.2 459.4 232.5 459.5C238.7 459.6 250.2 460.1 255 460C259.7 459.8 258.5 458.7 261 458.5C263.5 458.2 266 458.2 270 458.5C274 458.7 280 459.8 285 460C290 460.1 295 459.8 300 459.5C305 459.3 311.2 458.6 314.9 458.5C318.7 458.3 319.9 458.2 322.4 458.5C324.9 458.7 326.2 459.8 329.9 460C333.7 460.2 339.9 459.9 344.9 459.7C349.9 459.4 355 458.7 360 458.5C365 458.2 371.2 457.9 375 458C378.7 458.1 377.5 459 382.5 459.2C387.5 459.5 398.7 459.3 405 459.5C411.2 459.8 415 460.6 420 460.7C425 460.9 430 460.6 435 460.4C440 460.2 445 459.8 449.9 459.5C454.9 459.2 460.4 458.6 464.9 458.5C469.4 458.3 473.6 458.8 476.9 458.5C480.3 458.2 483 457 485 456.7C487 456.4 486.1 456.5 489 456.7C491.9 456.8 498.5 457.7 502.5 457.7C506.5 457.7 509.5 457.1 513 456.7C516.5 456.2 520.2 455.4 523.5 455.2C526.7 455 529.2 455.5 532.5 455.5C535.7 455.4 540.7 455.1 543 454.7C545.2 454.3 544 453.5 546 453.2C548 452.9 552 453 555 452.8C558 452.5 561 452.1 564 451.7C567 451.4 570.5 450.9 573 450.7C575.5 450.5 577 450.3 579 450.5C580.9 450.7 582.9 451.2 584.9 451.7C586.9 452.2 588.4 453.2 590.9 453.7C593.4 454.1 596.7 454.2 599.9 454.3C603.2 454.4 607.9 453.7 610.4 454.3C612.9 454.8 612.9 456.8 614.9 457.7C616.9 458.6 618.7 458.9 622.5 459.5C626.3 460.1 631.2 460.8 637.5 461.2C643.7 461.5 652.5 461.3 660 461.5C667.5 461.6 676.5 462 682.5 461.9C688.5 461.9 692.2 461.8 696 461.2C699.7 460.5 702.1 458.3 705 458C707.8 457.7 711.8 459 713.2 459.2" fill="none" stroke="#f22" stroke-width="1.2" stroke-linejoin="round" stroke-linecap="butt" />
</g>
<g clip-path="url(#cp)">
<path d="M6.3 472.2C11.2 472.8 25 474.3 36 475.8C47 477.3 61.3 479.8 72 481.2C82.7 482.6 86.7 483.2 100 484.5C113.3 485.8 136.6 487 151.7 488.8C166.8 490.6 178.3 493.4 190.3 495.1C202.3 496.8 212.6 497.9 223.8 499.1C235 500.3 245.4 501.3 257.3 502.5C269.2 503.7 283.1 504.8 295 506.3C306.9 507.8 317.3 509.7 328.5 511.4C339.7 513.1 353.6 515.4 362 516.4C370.4 517.4 373.2 517.3 378.8 517.6C384.4 517.9 389.9 517.9 395.5 518.1C401.1 518.3 406.7 518.6 412.3 518.9C417.9 519.2 421.9 519.2 429 519.7C436.1 520.2 447.3 521.3 455 521.9C462.7 522.5 467.6 522.8 475.1 523.1C482.7 523.4 491.9 523.6 500.3 523.9C508.7 524.2 518.4 524.5 525.4 524.8C532.4 525.1 537.4 524.8 542.1 525.6C546.9 526.4 549.7 528.4 553.9 529.8C558.1 531.2 562.3 532.6 567.3 534C572.3 535.4 578.4 536.8 584 538.2C589.6 539.6 595.3 541.1 600.8 542.4C606.3 543.6 611.3 544.7 616.8 545.7C622.2 546.8 627.9 547.9 633.5 548.7C639.1 549.5 644.7 550.3 650.3 550.7C655.9 551.1 661.4 551.1 667 551.2C672.6 551.3 678.2 551.3 683.8 551.1C689.4 550.9 695.5 550.4 700.5 549.9C705.5 549.4 711.7 548.2 713.9 547.9" fill="none" stroke="#8655b0" stroke-width="1.2" stroke-linejoin="round" stroke-linecap="butt" /><path d="M6.7 472.3L9.5 477L12.6 481.2L16.2 481.2L19.4 476.3L23.4 482.4L27 483.8L33 484.5L45 485L60 483.5L100 486L122 483L140 489L151.7 490.1L155.1 491.3L159.3 495.5L165.1 498.5L170.2 499.6L176 500.8L180.2 502.2L183.2 505.5L186.6 507.2L190.3 502.7L197 501.3L204.5 500.1L207 503.5L213.7 505.5L217.1 507.5L222.1 505.5L230.5 507.7L234.6 504.7L240.5 503L247.2 508.5L255.6 505.5L262.3 502.2L267.3 508L274 511.9L278.2 508.5L284.1 511.9L289.1 512.2L294.9 517.2L301.7 513L306.7 517.2L311.8 520.9L318.5 518.9L323.5 515.9L329.3 514.2L332.7 519.7L336 519.7L340.2 523.1L346.1 521.9L349.4 525.6L352.8 527.3L357 524.8L362 523.9L367 522.3L370.4 518.9L375.4 519.7L380.4 521.4L386.3 516.4L390.5 519.7L395.5 518.1L402.2 517.6L408.1 516.4L412.3 517.6L419 521.4L424.8 523.9L427.3 521.9L431.5 521.9L436.5 524.8L441.6 527.3L444.1 525.6L450 528.1L455 527.6L458.4 530.3L461.7 526.9L468.4 525.6L475.1 527.6L480.2 525.6L491.9 525.9L503.6 523.9L512 525.6L517 525.6L520.4 528.4L527.1 526.4L533.8 528.6L537.1 528.6L540.5 532.6L543.8 533.6L547.2 554.1L550.5 557.4L555.5 552.4L560.6 547.4L563.9 545.7L567.3 549.9L570.6 554.1L574 552.1L579 556.1L584 556.9L590.7 557.4L595.7 558.6L600 557.4L604.1 555.8L607.5 553.7L616.8 557.4L623.5 555.4L628.5 556.6L631.8 554.4L638.5 554.4L643.6 552.4L651.9 549.6L656.1 552.1L660.3 549.9L663.7 545.7L667 545.4L669.5 546.5L673.7 543.2L677.1 544L680.4 545.7L687.1 545.7L693 542.4L698.8 543.2L703.9 538.5L708 538.2L713.9 534.8" fill="none" stroke="#222" stroke-width="1.2" stroke-linejoin="round" stroke-linecap="butt" /><path d="M6.7 472.3C7.6 472.5 9.8 472.7 12 473.5C14.2 474.3 17.5 476.1 20 477.3C22.5 478.5 24.8 479.5 27 480.5C29.2 481.5 27.8 482.4 33.3 483.3C38.8 484.2 48.9 485.4 60 486C71.1 486.6 86.7 486.5 100 487C113.3 487.5 131.4 488.5 140 489C148.6 489.5 148.9 489.7 151.7 490.1C154.5 490.5 154.5 490.2 156.8 491.3C159 492.3 162.3 494.9 165.1 496.3C167.9 497.7 171 498.8 173.5 499.6C176 500.5 178 500.5 180.2 501.3C182.4 502.2 184.9 504.2 186.9 504.7C188.9 505.1 189.1 504.4 191.9 503.8C194.7 503.3 200.6 501.3 203.7 501.3C206.7 501.3 207.8 503 210.4 503.8C212.9 504.7 215.4 505.8 218.7 506.3C222.1 506.9 226.8 507.5 230.5 507.2C234.1 506.9 237.4 504.7 240.5 504.7C243.6 504.6 246.1 506.7 248.9 506.8C251.7 507 254.7 505.9 257.3 505.5C259.8 505.1 261.7 503.7 264 504.2C266.2 504.6 268.4 507 270.7 508C272.9 509 274.6 509.5 277.4 510.2C280.1 510.9 284.5 511.1 287.4 512.2C290.3 513.3 292.6 516.6 295 516.9C297.4 517.2 299.5 513.7 301.7 513.9C303.9 514.1 306.2 517.1 308.4 518.1C310.6 519 312.6 519.9 315.1 519.7C317.6 519.6 321.1 518 323.5 517.2C325.8 516.5 327.1 514.9 329.3 515.2C331.6 515.5 334.2 517.7 336.9 518.9C339.5 520.1 342.6 521.1 345.3 522.3C347.9 523.4 350.6 525.2 352.8 525.6C355 526 356.3 525 358.7 524.8C361 524.5 364.2 524.6 367 523.9C369.8 523.2 372.9 521.1 375.4 520.6C377.9 520 380.1 520.9 382.1 520.6C384.1 520.2 385.2 518.8 387.1 518.6C389.1 518.3 391.9 519.1 393.8 518.9C395.8 518.7 396.3 517.8 398.9 517.6C401.4 517.3 406.3 517.1 408.9 517.2C411.6 517.3 412.5 517.5 414.8 518.1C417 518.6 419.7 520 422.3 520.6C425 521.1 428.2 520.9 430.7 521.4C433.2 522 434.9 523.2 437.4 523.9C439.9 524.7 443.7 525.4 445.8 525.9C447.9 526.4 447.9 526.6 450 526.9C452.1 527.3 455.6 528.1 458.4 528.1C461.2 528.1 462.6 527.4 466.8 526.9C470.9 526.5 477.9 526 483.5 525.6C489.1 525.2 496.1 525 500.3 524.8C504.4 524.5 505.8 524.1 508.6 524.3C511.4 524.4 514.2 525.2 517 525.6C519.8 526 522.6 526.2 525.4 526.4C528.2 526.7 531.2 526.7 533.8 527.3C536.3 527.8 538.8 529.1 540.5 529.8C542.1 530.5 542.7 529.9 543.8 531.5C544.9 533 546 536.5 547.2 539C548.3 541.5 549.4 544.6 550.5 546.5C551.6 548.4 552.5 549.4 553.9 550.4C555.2 551.4 557.2 552.5 558.9 552.4C560.6 552.3 562.5 550.5 563.9 549.9C565.3 549.3 565.6 548.6 567.3 548.7C568.9 548.8 571.7 549.5 574 550.4C576.2 551.3 578.4 553.1 580.7 554.1C582.9 555.1 585.1 555.6 587.4 556.3C589.6 556.9 591.8 557.4 594.1 557.8C596.3 558.1 598.5 558.6 600.8 558.3C603 557.9 606.2 556.2 607.5 555.8C608.7 555.3 606.8 555.4 608.4 555.4C609.9 555.4 613.7 555.6 616.8 555.8C619.8 555.9 624 556.4 626.8 556.3C629.6 556.1 631 555.3 633.5 554.9C636 554.5 639.1 554.3 641.9 553.7C644.7 553.2 647.5 552.1 650.3 551.6C653 551.1 655.8 551.4 658.6 550.7C661.4 550 664.2 548.4 667 547.4C669.8 546.4 672.6 545.2 675.4 544.9C678.2 544.5 681.2 545.4 683.8 545.4C686.3 545.4 687.7 545.2 690.5 544.9C693.2 544.5 697.7 543.9 700.5 543.2C703.3 542.4 705 541.4 707.2 540.3C709.4 539.3 712.8 537.5 713.9 537" fill="none" stroke="#f00" stroke-width="1.25" stroke-linejoin="round" stroke-linecap="butt" />
</g>
<path d="M6 366.5H907" stroke="#8a8a8a" stroke-width="1.2"/><path d="M907.5 99.5V367M907.5 385V567" stroke="#7d7d7d" stroke-width="1.1"/><path d="M60.5 366V371" stroke="#8a8a8a" stroke-width="1"/><text x="60.6" y="382.6" text-anchor="middle" class="xl">dic</text><path d="M123.5 366V371" stroke="#8a8a8a" stroke-width="1"/><text x="123.3" y="382.6" text-anchor="middle" class="xl">2018</text><path d="M196.5 366V371" stroke="#8a8a8a" stroke-width="1"/><text x="196.7" y="382.6" text-anchor="middle" class="xl">feb</text><path d="M264.5 366V371" stroke="#8a8a8a" stroke-width="1"/><text x="264.4" y="382.6" text-anchor="middle" class="xl">mar</text><path d="M336.5 366V371" stroke="#8a8a8a" stroke-width="1"/><text x="336.8" y="382.6" text-anchor="middle" class="xl">abr</text><path d="M407.5 366V371" stroke="#8a8a8a" stroke-width="1"/><text x="407.6" y="382.6" text-anchor="middle" class="xl">may</text><path d="M478.5 366V371" stroke="#8a8a8a" stroke-width="1"/><text x="478.6" y="382.6" text-anchor="middle" class="xl">jun</text><path d="M550.5 366V371" stroke="#8a8a8a" stroke-width="1"/><text x="550.6" y="382.6" text-anchor="middle" class="xl">jul</text><path d="M618.5 366V371" stroke="#8a8a8a" stroke-width="1"/><text x="618.6" y="382.6" text-anchor="middle" class="xl">ago</text><path d="M693.5 366V371" stroke="#8a8a8a" stroke-width="1"/><text x="693.3" y="382.6" text-anchor="middle" class="xl">sept</text><path d="M781.5 366V371" stroke="#8a8a8a" stroke-width="1"/><text x="781.3" y="382.6" text-anchor="middle" class="xl">oct</text><path d="M886.5 366V371" stroke="#8a8a8a" stroke-width="1"/><text x="886.6" y="382.6" text-anchor="middle" class="xl">nov</text><text x="5.4" y="383" text-anchor="middle" class="xl" clip-path="url(#cx)">nov</text><path d="M907 124.5H911" stroke="#777" stroke-width="1"/><text x="913.5" y="128" class="yl">35,00</text><path d="M907 187.5H911" stroke="#777" stroke-width="1"/><text x="913.5" y="191" class="yl">30,00</text><path d="M907 397.5H911" stroke="#777" stroke-width="1"/><text x="913.5" y="401" class="yl">500m</text><path d="M907 411.5H911" stroke="#777" stroke-width="1"/><text x="913.5" y="415" class="yl">400m</text><path d="M907 426.5H911" stroke="#777" stroke-width="1"/><text x="913.5" y="430" class="yl">300m</text><path d="M907 440.5H911" stroke="#777" stroke-width="1"/><text x="913.5" y="444" class="yl">200m</text><path d="M907 454.5H911" stroke="#777" stroke-width="1"/><text x="913.5" y="458" class="yl">100m</text><path d="M907 485.5H911" stroke="#777" stroke-width="1"/><text x="913.5" y="489" class="yl">0,0060</text><path d="M907 499.5H911" stroke="#777" stroke-width="1"/><text x="913.5" y="503" class="yl">0,0055</text><path d="M907 513.5H911" stroke="#777" stroke-width="1"/><text x="913.5" y="517" class="yl">0,0050</text><path d="M907 527.5H911" stroke="#777" stroke-width="1"/><text x="913.5" y="531" class="yl">0,0045</text><path d="M907 541.5H911" stroke="#777" stroke-width="1"/><text x="913.5" y="545" class="yl">0,0040</text><path d="M907 555.5H911" stroke="#777" stroke-width="1"/><text x="913.5" y="559" class="yl">0,0035</text>
<!-- zoom control -->
<rect x="427" y="322" width="70" height="25" rx="3" fill="#000" fill-opacity=".07"/>
<rect x="427" y="321" width="70" height="25" rx="3" fill="#f2f2f2" fill-opacity=".93"/>
<path d="M438 333.6H451" stroke="#555" stroke-width="2.6"/>
<path d="M463.5 325V341.5" stroke="#c6c6c6" stroke-width="1"/>
<path d="M473 333.6H486M479.5 327.2V340" stroke="#555" stroke-width="2.8"/>
<!-- labels -->
<rect x="17" y="116.500" width="77" height="22" fill="#000" fill-opacity=".08"/>
<rect x="16" y="115" width="77" height="21.500" fill="#999"/>
<text x="25.5" y="130" textLength="57.5" lengthAdjust="spacingAndGlyphs" class="lb">VAPORES</text>
<rect x="17" y="401.500" width="71" height="22" fill="#000" fill-opacity=".08"/>
<rect x="16" y="400" width="71" height="21.500" fill="#999"/>
<text x="25.5" y="414.8" textLength="51.5" lengthAdjust="spacingAndGlyphs" class="lb">VOLUME</text>
<rect x="17" y="485.500" width="136" height="22" fill="#000" fill-opacity=".08"/>
<rect x="16" y="484" width="136" height="21.500" fill="#999"/>
<text x="26" y="498.8" textLength="116" lengthAdjust="spacingAndGlyphs" class="lb">P REL. (SPCLXIPSA)</text>
<!-- volume icons -->
<g stroke="#555" stroke-width="1" fill="none">
<path d="M111.500 417V405.500M106.500 410.500L111.500 405.500L116.500 410.500"/>
<path d="M140.500 405.500V417M135.500 412L140.500 417L145.500 412"/>
<path d="M176.500 500.500V489M171.500 494L176.500 489L181.500 494"/>
</g>
<g transform="translate(170 411.2) scale(.8)"><path fill="#555" stroke="#555" stroke-width=".3" fill-rule="evenodd" stroke-linejoin="round" d="M-1.78 -5.83L-1.12 -8.53L1.12 -8.53L1.78 -5.83L2.86 -5.39L5.24 -6.82L6.82 -5.24L5.39 -2.86L5.83 -1.78L8.53 -1.12L8.53 1.12L5.83 1.78L5.39 2.86L6.82 5.24L5.24 6.82L2.86 5.39L1.78 5.83L1.12 8.53L-1.12 8.53L-1.78 5.83L-2.86 5.39L-5.24 6.82L-6.82 5.24L-5.39 2.86L-5.83 1.78L-8.53 1.12L-8.53 -1.12L-5.83 -1.78L-5.39 -2.86L-6.82 -5.24L-5.24 -6.82L-2.86 -5.39ZM0 -3.60a3.60 3.60 0 1 0 0 7.20a3.60 3.60 0 1 0 0 -7.20z"/></g>
<g transform="translate(206.2 494.6) scale(.8)"><path fill="#555" stroke="#555" stroke-width=".3" fill-rule="evenodd" stroke-linejoin="round" d="M-1.78 -5.83L-1.12 -8.53L1.12 -8.53L1.78 -5.83L2.86 -5.39L5.24 -6.82L6.82 -5.24L5.39 -2.86L5.83 -1.78L8.53 -1.12L8.53 1.12L5.83 1.78L5.39 2.86L6.82 5.24L5.24 6.82L2.86 5.39L1.78 5.83L1.12 8.53L-1.12 8.53L-1.78 5.83L-2.86 5.39L-5.24 6.82L-6.82 5.24L-5.39 2.86L-5.83 1.78L-8.53 1.12L-8.53 -1.12L-5.83 -1.78L-5.39 -2.86L-6.82 -5.24L-5.24 -6.82L-2.86 -5.39ZM0 -3.60a3.60 3.60 0 1 0 0 7.20a3.60 3.60 0 1 0 0 -7.20z"/></g>
<path d="M194 406.500L203.500 416M203.500 406.500L194 416" stroke="#555" stroke-width="1.8" fill="none"/>
<path d="M230 490L239.500 499.500M239.500 490L230 499.500" stroke="#555" stroke-width="1.8" fill="none"/>
<!-- header gear -->
<g transform="translate(932.4 27.9)"><path fill="#e4e4e4" stroke="#e4e4e4" stroke-width=".3" fill-rule="evenodd" stroke-linejoin="round" d="M-1.78 -5.83L-1.12 -8.53L1.12 -8.53L1.78 -5.83L2.86 -5.39L5.24 -6.82L6.82 -5.24L5.39 -2.86L5.83 -1.78L8.53 -1.12L8.53 1.12L5.83 1.78L5.39 2.86L6.82 5.24L5.24 6.82L2.86 5.39L1.78 5.83L1.12 8.53L-1.12 8.53L-1.78 5.83L-2.86 5.39L-5.24 6.82L-6.82 5.24L-5.39 2.86L-5.83 1.78L-8.53 1.12L-8.53 -1.12L-5.83 -1.78L-5.39 -2.86L-6.82 -5.24L-5.24 -6.82L-2.86 -5.39ZM0 -3.60a3.60 3.60 0 1 0 0 7.20a3.60 3.60 0 1 0 0 -7.20z"/></g>
<path d="M899.5 252.8 L907.5 244.8 H939 Q941 244.8 941 246.8 V258.8 Q941 260.8 939 260.8 H907.5Z" fill="#000"/><text x="925.5" y="257.2" text-anchor="middle" class="tg" font-weight="bold" fill="#fff">24,86</text><path d="M899.5 290 L907.5 282 H939 Q941 282 941 284 V296 Q941 298 939 298 H907.5Z" fill="#8dc473"/><text x="925.5" y="294.4" text-anchor="middle" class="tg" font-weight="bold" fill="#fff">21,94</text><path d="M899.5 307 L907.5 299 H939 Q941 299 941 301 V313 Q941 315 939 315 H907.5Z" fill="#6e4318"/><text x="925.5" y="311.4" text-anchor="middle" class="tg" font-weight="bold" fill="#fff">20,59</text><path d="M899.5 332 L907.5 324 H939 Q941 324 941 326 V338 Q941 340 939 340 H907.5Z" fill="#ff6a1f"/><text x="925.5" y="336.4" text-anchor="middle" class="tg" font-weight="normal" fill="#111">18,63</text><path d="M899.5 318.3 L907.5 310.3 H939 Q941 310.3 941 312.3 V324.3 Q941 326.3 939 326.3 H907.5Z" fill="#2bb5aa"/><text x="925.5" y="322.7" text-anchor="middle" class="tg" font-weight="bold" fill="#fff">19,71</text><path d="M899.5 457.3 L907.5 449.3 H942 Q944 449.3 944 451.3 V463.3 Q944 465.3 942 465.3 H907.5Z" fill="#7d55b5"/><path d="M899.5 459.7 L907.5 451.7 H942 Q944 451.7 944 453.7 V465.7 Q944 467.7 942 467.7 H907.5Z" fill="#000"/><path d="M899.5 458.3 L907.5 450.3 H942 Q944 450.3 944 452.3 V464.3 Q944 466.3 942 466.3 H907.5Z" fill="#f00"/><text x="927" y="462.7" text-anchor="middle" class="tg" font-weight="normal" fill="#111">73.0m</text><path d="M899.5 535.5 L907.5 527.5 H944.5 Q946.5 527.5 946.5 529.5 V541.5 Q946.5 543.5 944.5 543.5 H907.5Z" fill="#000"/><path d="M899.5 537.7 L907.5 529.7 H944.5 Q946.5 529.7 946.5 531.7 V543.7 Q946.5 545.7 944.5 545.7 H907.5Z" fill="#f00"/><text x="928.2" y="542.1" text-anchor="middle" class="tg" font-weight="normal" fill="#300">0,0041</text><path d="M899.5 548 L907.5 540 H944.5 Q946.5 540 946.5 542 V554 Q946.5 556 944.5 556 H907.5Z" fill="#7d55a8"/><text x="928.2" y="552.4" text-anchor="middle" class="tg" font-weight="bold" fill="#fff">0,0037</text>
<linearGradient id="sg" x1="0" x2="1" y1="0" y2="0"><stop offset="0" stop-color="#bdbdbd"/><stop offset="1" stop-color="#fff"/></linearGradient>
<rect x="68" y="564" width="8" height="3" fill="url(#sg)"/><rect x="908" y="564" width="5" height="3" fill="url(#sg)"/>
</svg>
</body></html>
